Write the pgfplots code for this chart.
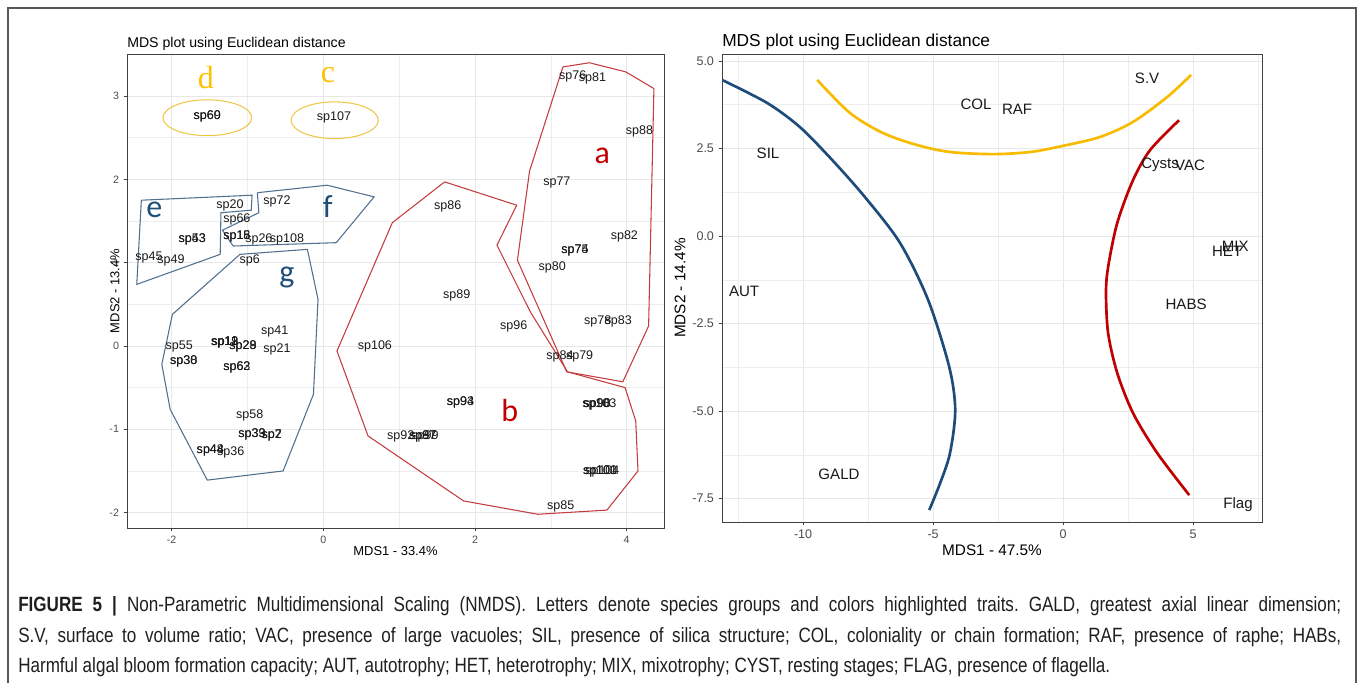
\documentclass[border=0pt]{standalone}
\usepackage{pgfplots}
\pgfplotsset{compat=1.18}
\usepackage{fontspec}
\setmainfont{Liberation Sans}
\newfontfamily\calib{Carlito}
\newfontfamily\tnr{Liberation Serif}
\newfontfamily\capfont[FakeStretch=0.826]{Liberation Sans}
\frenchspacing

\definecolor{navy}{HTML}{1D4B7A}
\definecolor{gold}{HTML}{F7BC00}
\definecolor{ellgold}{HTML}{F0C64A}
\definecolor{darkred}{HTML}{C00000}
\definecolor{polyblue}{HTML}{51708F}
\definecolor{polyred}{HTML}{C43C3E}
\definecolor{lettblue}{HTML}{1F4E79}
\definecolor{lettgold}{HTML}{FFC000}

\pgfplotsset{
  ggbw/.style={
    scale only axis,
    grid=both,
    major grid style={black!9, line width=0.7pt},
    minor grid style={black!7, line width=0.4pt},
    minor tick length=0pt,
    major tick length=2.5pt,
    tick align=outside,
    xtick pos=left, ytick pos=left,
    axis line style={black!75, line width=0.7pt},
    tick style={black!75, line width=0.6pt},
    tick label style={text=black!70},
  },
  splabels/.style={
    only marks, mark=none,
    nodes near coords, point meta=explicit symbolic,
    every node near coord/.append style={anchor=center, inner sep=0pt, text=black!90},
  },
}

\begin{document}
\begin{tikzpicture}
\useasboundingbox (0,0) rectangle (1018.5pt,-512.25pt);
% outer frame
\draw[black!65, line width=0.8pt] (6pt,-512.25pt) -- (6pt,-6pt) -- (1017pt,-6pt) -- (1017pt,-512.25pt);

% ---------------- left panel ----------------
\begin{axis}[ggbw, name=L,
  at={(95.25pt,-396pt)}, anchor=south west,
  width=402.75pt, height=355.5pt,
  xmin=-2.589, xmax=4.493, ymin=-2.185, ymax=3.505,
  xtick={-2,0,2,4}, xticklabels={-2,0,2,4},
  minor xtick={-1,1,3},
  ytick={-2,-1,0,1,2,3}, yticklabels={-2,-1,0,1,2,3},
  minor ytick={-1.5,-0.5,0.5,1.5,2.5},
  tick label style={font=\fontsize{8}{9}\selectfont},
]
% group hulls
\addplot[polyblue, line width=0.8pt] coordinates {(-2.40,1.75) (-0.94,1.81) (-0.95,1.63) (-1.35,1.60) (-1.36,1.10) (-2.46,0.74) (-2.40,1.75)};
\addplot[polyblue, line width=0.8pt] coordinates {(-0.87,1.84) (0.05,1.93) (0.67,1.79) (0.17,1.24) (-1.19,1.20) (-1.33,1.39) (-0.85,1.60) (-0.87,1.84)};
\addplot[polyblue, line width=0.8pt] coordinates {(-1.10,1.10) (-0.21,1.16) (-0.07,0.56) (-0.13,-0.58) (-0.53,-1.50) (-1.53,-1.61) (-2.02,-0.76) (-2.13,-0.22) (-1.99,0.38) (-1.10,1.10)};
\addplot[polyred, line width=0.8pt] coordinates {(1.60,1.97) (2.55,1.69) (2.29,1.21) (2.73,0.41) (3.22,-0.31) (3.98,-0.50) (4.12,-0.90) (4.15,-1.50) (3.74,-1.97) (2.83,-2.02) (1.85,-1.86) (0.59,-1.08) (0.18,-0.06) (0.91,1.48) (1.60,1.97)};
\addplot[polyred, line width=0.8pt] coordinates {(3.16,3.35) (3.51,3.40) (3.99,3.29) (4.36,3.09) (4.29,0.24) (3.95,-0.43) (3.21,-0.31) (2.56,1.03) (2.72,2.10) (3.16,3.35)};
\draw[ellgold, line width=0.8pt] (axis cs:-1.53,2.74) ellipse [x radius=0.585, y radius=0.215];
\draw[ellgold, line width=0.8pt] (axis cs:0.15,2.71) ellipse [x radius=0.575, y radius=0.22];
% species
\addplot[splabels, every node near coord/.append style={font=\fontsize{9.4}{10}\selectfont}] table[meta=lab] {
x y lab
-1.53 2.75 sp60
-1.53 2.75 sp69
0.14 2.74 sp107
-1.23 1.69 sp20
-0.61 1.73 sp72
-1.14 1.52 sp66
-1.73 1.28 sp43
-1.73 1.28 sp53
-1.14 1.31 sp18
-1.14 1.31 sp15
-0.85 1.28 sp26
-0.48 1.28 sp108
-2.30 1.06 sp45
-2.01 1.03 sp49
-0.97 1.03 sp6
-0.64 0.17 sp41
-1.90 -0.01 sp55
-1.30 0.04 sp13
-1.30 0.04 sp19
-1.30 0.04 sp11
-1.06 0.00 sp28
-1.06 0.00 sp29
-0.61 -0.04 sp21
-1.84 -0.18 sp30
-1.84 -0.18 sp38
-1.14 -0.26 sp62
-1.14 -0.26 sp63
-0.97 -0.83 sp58
-0.94 -1.06 sp33
-0.94 -1.06 sp39
-0.68 -1.07 sp2
-0.68 -1.07 sp7
-1.49 -1.25 sp44
-1.49 -1.25 sp48
-1.22 -1.28 sp36
1.64 1.67 sp86
1.76 0.61 sp89
2.51 0.23 sp96
0.68 -0.01 sp106
3.12 -0.12 sp84
3.38 -0.13 sp79
1.81 -0.68 sp93
1.81 -0.68 sp94
3.61 -0.70 sp90
3.61 -0.70 sp98
3.64 -0.70 sp103
1.02 -1.08 sp92
1.31 -1.09 sp97
1.31 -1.09 sp87
1.34 -1.09 sp99
3.65 -1.51 sp100
3.65 -1.51 sp101
3.68 -1.51 sp104
3.13 -1.93 sp85
3.29 3.23 sp76
3.55 3.21 sp81
4.17 2.58 sp88
3.08 1.96 sp77
3.97 1.31 sp82
3.32 1.15 sp74
3.32 1.15 sp75
3.02 0.94 sp80
3.62 0.30 sp78
3.89 0.29 sp83
};
% group letters
\node[text=darkred, font=\calib\fontsize{24}{26}\selectfont] at (axis cs:3.68,2.28) {a};
\node[text=darkred, font=\calib\fontsize{24}{26}\selectfont] at (axis cs:2.46,-0.77) {b};
\node[text=lettgold, font=\tnr\fontsize{24}{26}\selectfont] at (axis cs:0.06,3.25) {c};
\node[text=lettgold, font=\tnr\fontsize{24}{26}\selectfont] at (axis cs:-1.55,3.22) {d};
\node[text=lettblue, font=\calib\fontsize{24}{26}\selectfont] at (axis cs:-2.23,1.64) {e};
\node[text=lettblue, font=\calib\fontsize{24}{26}\selectfont] at (axis cs:0.06,1.67) {f};
\node[text=lettblue, font=\calib\fontsize{24}{26}\selectfont] at (axis cs:-0.48,0.82) {g};
\end{axis}

% ---------------- right panel ----------------
\begin{axis}[ggbw, name=R,
  at={(541.5pt,-391.5pt)}, anchor=south west,
  width=405pt, height=351pt,
  xmin=-13.12, xmax=7.65, ymin=-8.17, ymax=5.2,
  xtick={-10,-5,0,5}, xticklabels={-10,-5,0,5},
  minor xtick={-12.5,-7.5,-2.5,2.5,7.5},
  ytick={-7.5,-5,-2.5,0,2.5,5}, yticklabels={-7.5,-5.0,-2.5,0.0,2.5,5.0},
  minor ytick={-6.25,-3.75,-1.25,1.25,3.75},
  tick label style={font=\fontsize{9.4}{10}\selectfont},
]
\addplot[navy, line width=2pt, smooth] coordinates {
(-13.12,4.46) (-11.38,3.80) (-10.12,3.11) (-8.88,2.17) (-7.62,1.11) (-6.27,-0.20)
(-5.19,-1.83) (-4.38,-3.74) (-4.15,-4.97) (-4.35,-6.20) (-4.73,-7.06) (-5.15,-7.83)};
\addplot[gold, line width=2pt, smooth] coordinates {
(-9.46,4.46) (-8.19,3.51) (-6.92,2.94) (-5.62,2.60) (-4.35,2.40) (-2.69,2.34)
(-1.27,2.40) (-0.04,2.57) (1.42,2.83) (2.69,3.26) (4.00,3.97) (4.92,4.60)};
\addplot[darkred, line width=2pt, smooth] coordinates {
(4.46,3.31) (3.35,2.46) (2.69,1.60) (2.08,0.37) (1.73,-0.89) (1.65,-1.63)
(1.73,-2.77) (2.08,-3.91) (2.69,-5.06) (3.62,-6.20) (4.85,-7.40)};
\addplot[splabels, every node near coord/.append style={font=\fontsize{11.3}{12}\selectfont}] table[meta=lab] {
x y lab
3.23 4.51 S.V
-1.77 3.63 RAF
-3.35 3.77 COL
-11.35 2.37 SIL
-12.27 -1.57 AUT
-8.62 -6.80 GALD
3.73 2.03 Cysts
4.88 2.03 VAC
6.31 -0.43 HET
6.62 -0.29 MIX
4.73 -1.94 HABS
6.73 -7.66 Flag
};
\end{axis}

% ---------------- titles and axis labels ----------------
\node[anchor=base west, inner sep=0pt, font=\fontsize{10.6}{12}\selectfont] at (95.25pt,-35.25pt) {MDS plot using Euclidean distance};
\node[anchor=base, inner sep=0pt, font=\fontsize{9.7}{11}\selectfont] at (296.6pt,-416.25pt) {MDS1 - 33.4\%};
\node[rotate=90, inner sep=0pt, font=\fontsize{9.7}{11}\selectfont] at (86.25pt,-218.25pt) {MDS2 - 13.4\%};
\node[anchor=base west, inner sep=0pt, font=\fontsize{13}{15}\selectfont] at (541.5pt,-34.5pt) {MDS plot using Euclidean distance};
\node[anchor=base, inner sep=0pt, font=\fontsize{11.5}{13}\selectfont] at (744pt,-416.25pt) {MDS1 - 47.5\%};
\node[rotate=90, inner sep=0pt, font=\fontsize{11.5}{13}\selectfont] at (510pt,-216pt) {MDS2 - 14.4\%};

% ---------------- caption ----------------
\begin{scope}[every node/.style={anchor=base west, inner sep=0pt, text=black!88, font=\capfont\fontsize{15.5}{18}\selectfont}]
\node at (13.5pt,-458.25pt) {\makebox[992.25pt][s]{\textbf{FIGURE 5 |} Non-Parametric Multidimensional Scaling (NMDS). Letters denote species groups and colors highlighted traits. GALD, greatest axial linear dimension;}};
\node at (13.5pt,-481.5pt) {\makebox[992.25pt][s]{S.V, surface to volume ratio; VAC, presence of large vacuoles; SIL, presence of silica structure; COL, coloniality or chain formation; RAF, presence of raphe; HABs,}};
\node at (13.5pt,-504pt) {Harmful algal bloom formation capacity; AUT, autotrophy; HET, heterotrophy; MIX, mixotrophy; CYST, resting stages; FLAG, presence of flagella.};
\end{scope}
\end{tikzpicture}
\end{document}
